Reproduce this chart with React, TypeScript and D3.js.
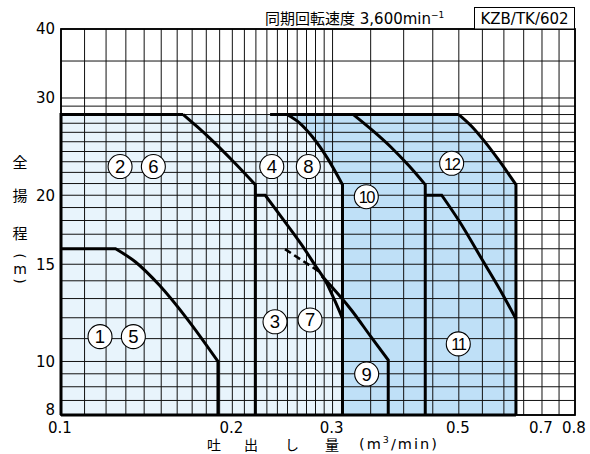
import React, { useEffect } from 'react';
import * as d3 from 'd3';

// ---- data ----
const xTickLabels = [0.1, 0.2, 0.3, 0.5, 0.7, 0.8];
const yTickLabels = [8, 10, 15, 20, 30, 40];
const xGridValues = [
  0.1, 0.11, 0.12, 0.13, 0.14, 0.15, 0.16, 0.17, 0.18, 0.19, 0.2,
  0.21, 0.22, 0.23, 0.24, 0.25, 0.26, 0.27, 0.28, 0.29, 0.3,
  0.35, 0.4, 0.45, 0.5, 0.55, 0.6, 0.65, 0.7, 0.75, 0.8,
];
const yGridValues = [
  8, 8.5, 9, 9.5, 10, 11, 12, 13, 14, 15, 16, 17, 18, 19, 20,
  21, 22, 23, 24, 25, 26, 27, 28, 29, 30, 35, 40,
];

// curved portions of the performance limits [flow m3/min, head m]
const curve15 = [[0.1247, 16], [0.1352, 15.14], [0.1488, 13.75], [0.1663, 11.97], [0.1887, 10]];
const curve26 = [[0.164, 28], [0.1731, 26.67], [0.1827, 25.35], [0.2008, 23.02], [0.2195, 20.9]];
const curve37 = [[0.2285, 20], [0.2458, 18.07], [0.2648, 16.26], [0.2794, 14.95], [0.293, 13.86], [0.3029, 12.87], [0.3123, 11.97]];
const curve48 = [[0.2495, 28], [0.2623, 27.05], [0.2769, 25.47], [0.2936, 23.37], [0.3123, 20.9]];
const curve9Dashed = [[0.2475, 15.97], [0.2851, 14.52]];
const curve9 = [[0.2874, 14.28], [0.3242, 12.37], [0.3505, 11.08], [0.3758, 10.06]];
const curve10 = [[0.3263, 28], [0.353, 26.18], [0.3805, 24.41], [0.4083, 22.63], [0.4365, 20.9]];
const curve11 = [[0.4666, 20], [0.5, 18.0], [0.552, 15.17], [0.5984, 13.17], [0.63, 11.94]];
const curve12 = [[0.5, 28], [0.5265, 26.67], [0.5553, 25.01], [0.5896, 23.05], [0.63, 20.9]];

const modelLabels = ['1', '5', '2', '6', '3', '7', '4', '8', '9', '10', '11', '12'];
const labelFlow = [0.1171, 0.134, 0.127, 0.1453, 0.2377, 0.2739, 0.2346, 0.272, 0.3444, 0.3439, 0.4989, 0.4857];
const labelHead = [11.09, 11.09, 22.54, 22.54, 11.8, 11.89, 22.54, 22.54, 9.49, 19.88, 10.76, 22.85];

const FLOW_MIN = 0.1;
const FLOW_MAX = 0.8;
const HEAD_MIN = 8;
const HEAD_MAX = 40;
const HEAD_TOP = 28;
const TOP_EDGE_START = 0.233;

type P = number[];

export default function App() {
  useEffect(() => {
    document.body.style.margin = '0';
  }, []);

  const x = d3.scaleLog().domain([FLOW_MIN, FLOW_MAX]).range([61, 575]);
  const y = d3.scaleLog().domain([HEAD_MIN, HEAD_MAX]).range([415, 29]);

  const lin = d3.line<P>().x((d) => x(d[0])).y((d) => y(d[1]));
  const smooth = d3
    .line<P>()
    .x((d) => x(d[0]))
    .y((d) => y(d[1]))
    .curve(d3.curveMonotoneX);

  // combine straight lead-in, smooth curve, straight lead-out into one path
  const combo = (before: P[], curve: P[], after: P[]) => {
    let s = '';
    const c = smooth(curve) as string;
    if (before.length) {
      s = (lin(before) as string) + 'L' + c.slice(1);
    } else s = c;
    if (after.length) {
      s += (lin([curve[curve.length - 1], ...after]) as string).replace(/^M[^L]*/, '');
    }
    return s;
  };

  const last = (a: P[]) => a[a.length - 1];
  const first = (a: P[]) => a[0];

  const outlines: string[] = [
    lin([[FLOW_MIN, HEAD_MIN], [FLOW_MIN, HEAD_TOP], first(curve26)]) as string,
    combo([], curve26, [[last(curve26)[0], HEAD_MIN]]),
    combo([[FLOW_MIN, first(curve15)[1]]], curve15, [[last(curve15)[0], HEAD_MIN]]),
    combo([[last(curve26)[0], first(curve37)[1]]], curve37, []),
    combo([[TOP_EDGE_START, HEAD_TOP]], curve48, [[last(curve48)[0], HEAD_MIN]]),
    lin([first(curve48), first(curve12)]) as string,
    combo([], curve10, [[last(curve10)[0], HEAD_MIN]]),
    combo([[last(curve10)[0], first(curve11)[1]]], curve11, []),
    combo([], curve12, [[last(curve12)[0], HEAD_MIN]]),
    combo([], curve9, [[last(curve9)[0], HEAD_MIN]]),
    lin([[FLOW_MIN, HEAD_MIN], [last(curve12)[0], HEAD_MIN]]) as string,
  ];

  const mediumArea =
    combo([[FLOW_MIN, HEAD_MIN], [FLOW_MIN, HEAD_TOP]], curve12, [[last(curve12)[0], HEAD_MIN]]) + 'Z';
  const lightArea =
    combo([[FLOW_MIN, HEAD_MIN], [FLOW_MIN, HEAD_TOP]], curve48, [[last(curve48)[0], HEAD_MIN]]) + 'Z';

  const numFont = '"DejaVu Sans", sans-serif';
  const jpFont = '"Noto Sans CJK JP", sans-serif';
  const circFont = '"Liberation Sans", Arial, sans-serif';

  const x0 = x(FLOW_MIN), x1 = x(FLOW_MAX), y0 = y(HEAD_MIN), y1 = y(HEAD_MAX);

  return (
    <svg width={590} height={454} style={{ display: 'block', background: '#fff' }}>
      <rect x={0} y={0} width={590} height={454} fill="#fff" />
      <path d={mediumArea} fill="#bfe0f7" stroke="none" />
      <path d={lightArea} fill="#e8f4fc" stroke="none" />

      {/* grid */}
      <g stroke="#111" strokeWidth={1}>
        {xGridValues.map((v) => (
          <line key={'gx' + v} x1={x(v)} x2={x(v)} y1={y0} y2={y1} />
        ))}
        {yGridValues.map((v) => (
          <line key={'gy' + v} x1={x0} x2={x1} y1={y(v)} y2={y(v)} />
        ))}
      </g>
      <rect x={x0} y={y1} width={x1 - x0} height={y0 - y1} fill="none" stroke="#000" strokeWidth={1.8} />

      {/* thick limit lines */}
      <g fill="none" stroke="#000" strokeWidth={3} strokeLinejoin="miter">
        {outlines.map((d, i) => (
          <path key={'o' + i} d={d} />
        ))}
        <path d={lin(curve9Dashed) as string} strokeDasharray="7,4" strokeWidth={2.6} />
      </g>

      {/* circled model numbers */}
      {modelLabels.map((n, i) => {
        const cx = x(labelFlow[i]);
        const cy = y(labelHead[i]);
        return (
          <g key={'l' + n}>
            <circle cx={cx} cy={cy} r={12} fill="#fff" stroke="#000" strokeWidth={1.1} />
            <text
              x={cx}
              y={cy + 6.5}
              textAnchor="middle"
              fontFamily={circFont}
              fontSize={n.length > 1 ? 16.5 : 18.5}
              letterSpacing={n.length > 1 ? -1.6 : 0}
              fill="#000"
            >
              {n}
            </text>
          </g>
        );
      })}

      {/* tick labels */}
      {yTickLabels.map((v) => (
        <text
          key={'yt' + v}
          x={55}
          y={v === HEAD_MIN ? y(v) - 5 : y(v)}
          dy="0.36em"
          textAnchor="end"
          fontFamily={numFont}
          fontSize={15}
          fill="#000"
        >
          {v}
        </text>
      ))}
      {xTickLabels.map((v) => (
        <text
          key={'xt' + v}
          x={x(v) - 1}
          y={433}
          textAnchor="middle"
          fontFamily={numFont}
          fontSize={15}
          fill="#000"
        >
          {v}
        </text>
      ))}

      {/* title */}
      <text x={265} y={24} fontSize={15} fill="#000">
        <tspan fontFamily={jpFont}>同期回転速度</tspan>
        <tspan fontFamily={numFont}> 3,600min</tspan>
        <tspan fontFamily={numFont} fontSize={9} dy={-6}>−1</tspan>
      </text>
      <rect x={474.5} y={7.5} width={100} height={21.5} fill="#fff" stroke="#000" strokeWidth={1} />
      <text x={524.5} y={24} textAnchor="middle" fontFamily={numFont} fontSize={15} fill="#000">
        KZB/TK/602
      </text>

      {/* y axis title (vertical) */}
      <g fontFamily={jpFont} fontSize={15} fill="#000" textAnchor="middle">
        <text x={20} y={168}>全</text>
        <text x={20} y={201}>揚</text>
        <text x={20} y={239}>程</text>
      </g>
      <g fontFamily={numFont} fontSize={14} fill="#000" textAnchor="middle">
        <text x={0} y={0} dy="0.35em" transform="translate(20,256) rotate(90)">(</text>
        <text x={20} y={269} dy="0.35em">m</text>
        <text x={0} y={0} dy="0.35em" transform="translate(20,281) rotate(90)">)</text>
      </g>

      {/* x axis title */}
      <g fontFamily={jpFont} fontSize={14} fill="#000" textAnchor="middle">
        <text x={214} y={450}>吐</text>
        <text x={251} y={450}>出</text>
        <text x={292} y={450}>し</text>
        <text x={332} y={450}>量</text>
      </g>
      <text x={359} y={449} fontFamily={numFont} fontSize={14.5} fill="#000" textLength={78} lengthAdjust="spacing">
        (m<tspan fontSize={9.5} dy={-6}>3</tspan><tspan dy={6}>/min)</tspan>
      </text>
    </svg>
  );
}
